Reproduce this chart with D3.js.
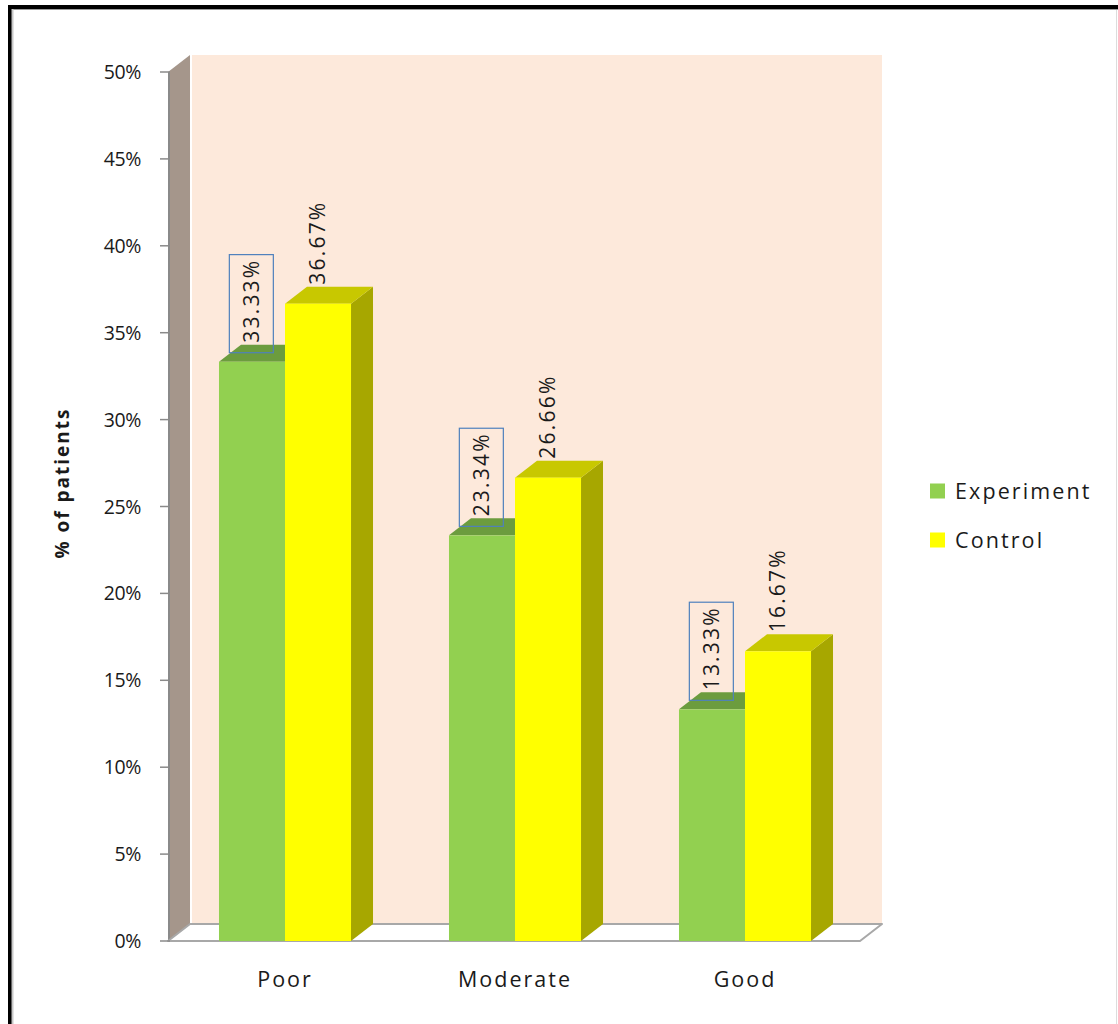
<!DOCTYPE html>
<html>
<head>
<meta charset="utf-8">
<script src="https://cdn.jsdelivr.net/npm/d3@7"></script>
<style>
  html, body { margin: 0; padding: 0; background: #fff; }
  svg { display: block; }
  text { font-family: "Open Sans", "Noto Sans", sans-serif; fill: #1a1a1a; }
</style>
</head>
<body>
<svg id="chart" width="1118" height="1024"></svg>
<script>
// Outcome grade per group, as share of patients
const categories = ["Poor", "Moderate", "Good"];
const seriesNames = ["Experiment", "Control"];
const experiment = [33.33, 23.34, 13.33];
const control = [36.67, 26.66, 16.67];
const tickValues = [0, 5, 10, 15, 20, 25, 30, 35, 40, 45, 50];

const colors = {
  Experiment: { front: "#92d050", top: "#6c9c3e", side: "#6f9a3b" },
  Control: { front: "#ffff00", top: "#c8c800", side: "#a7a700" }
};

const svg = d3.select("#chart");

// 3D depth offsets of the plot box
const DX = 22, DY = -17;

const y = d3.scaleLinear().domain([0, 50]).range([941, 72]);
const x = d3.scaleBand().domain(categories).range([170, 860]).paddingInner(0).paddingOuter(0);
const xs = d3.scaleBand().domain(seriesNames).range([0, x.bandwidth()]).paddingOuter(0.742).paddingInner(0);

// Outer frame
svg.append("rect").attr("x", 10).attr("y", 7).attr("width", 1200).attr("height", 1200)
  .attr("fill", "none").attr("stroke", "#000").attr("stroke-width", 4);
svg.append("line").attr("x1", 12).attr("x2", 1118).attr("y1", 9.5).attr("y2", 9.5)
  .attr("stroke", "#9a9a9a").attr("stroke-width", 1);
svg.append("line").attr("x1", 12.5).attr("x2", 12.5).attr("y1", 9).attr("y2", 1024)
  .attr("stroke", "#c8c8c8").attr("stroke-width", 2);
svg.append("line").attr("x1", 1116.5).attr("x2", 1116.5).attr("y1", 10).attr("y2", 1024)
  .attr("stroke", "#dcdcdc").attr("stroke-width", 1);

const x0 = x.range()[0], x1 = x.range()[1];
const yTop = y(50), yBot = y(0);

// Back wall
svg.append("rect")
  .attr("x", x0 + DX).attr("y", yTop + DY)
  .attr("width", x1 - x0).attr("height", yBot - yTop)
  .attr("fill", "#fde9db");

// Side wall
svg.append("polygon")
  .attr("points", [[x0 - 2, yTop], [x0 - 2 + DX, yTop + DY], [x0 - 2 + DX, yBot + DY], [x0 - 2, yBot]].join(" "))
  .attr("fill", "#a5968b");
svg.append("line").attr("x1", x0 - 1).attr("x2", x0 - 1).attr("y1", yTop).attr("y2", yBot)
  .attr("stroke", "#8a8a8a").attr("stroke-width", 2);

// Floor
svg.append("polygon")
  .attr("points", [[x0 - 2, yBot], [x0 - 2 + DX, yBot + DY], [x1 + DX, yBot + DY], [x1, yBot]].join(" "))
  .attr("fill", "#ffffff").attr("stroke", "#a8a8a8").attr("stroke-width", 2).attr("stroke-linejoin", "round");

// Y axis ticks and labels
const yAxis = svg.append("g");
yAxis.selectAll("line").data(tickValues).join("line")
  .attr("x1", x0 - 10).attr("x2", x0).attr("y1", d => y(d)).attr("y2", d => y(d))
  .attr("stroke", "#8a8a8a").attr("stroke-width", 1.5);
yAxis.selectAll("text").data(tickValues).join("text")
  .attr("x", x0 - 29).attr("y", d => y(d)).attr("dy", "0.36em")
  .attr("text-anchor", "end").attr("font-size", 19.5).attr("letter-spacing", -0.4)
  .text(d => d + "%");

// Axis title
svg.append("text")
  .attr("transform", `translate(62,483) rotate(-90)`)
  .attr("text-anchor", "middle").attr("dy", "0.35em")
  .attr("font-size", 19).attr("font-weight", "bold").attr("letter-spacing", 2)
  .text("% of patients");

// Bars, drawn back-to-front so later bars cover earlier sides
const rows = categories.map((c, i) => ({ cat: c, vals: [experiment[i], control[i]] }));
const bw = xs.bandwidth();
rows.forEach(r => {
  r.vals.forEach((v, si) => {
    const name = seriesNames[si];
    const bx = x(r.cat) + xs(name);
    const by = y(v);
    const c = colors[name];
    const g = svg.append("g");
    g.append("polygon")
      .attr("points", [[bx + bw, by], [bx + bw + DX, by + DY], [bx + bw + DX, yBot + DY], [bx + bw, yBot]].join(" "))
      .attr("fill", c.side);
    g.append("polygon")
      .attr("points", [[bx, by], [bx + DX, by + DY], [bx + bw + DX, by + DY], [bx + bw, by]].join(" "))
      .attr("fill", c.top);
    g.append("rect").attr("x", bx).attr("y", by).attr("width", bw).attr("height", yBot - by)
      .attr("fill", c.front);
  });
});

// Value labels
rows.forEach(r => {
  r.vals.forEach((v, si) => {
    const name = seriesNames[si];
    const cx = x(r.cat) + xs(name) + bw / 2;
    const g = svg.append("g").attr("transform", `translate(${cx},${y(v) + DY - 2}) rotate(-90)`);
    const t = g.append("text").attr("x", 0).attr("dy", "0.35em")
      .attr("font-size", 21).attr("letter-spacing", 2.2)
      .text(v.toFixed(2) + "%");
    if (name === "Experiment") {
      const b = t.node().getBBox();
      g.insert("rect", "text")
        .attr("x", -10).attr("y", b.y - 8)
        .attr("width", b.width + 14).attr("height", b.height + 16)
        .attr("fill", "none").attr("stroke", "#4f81bd").attr("stroke-width", 1.2);
    }
  });
});

// Category labels
svg.append("g").selectAll("text").data(categories).join("text")
  .attr("x", d => x(d) + x.bandwidth() / 2).attr("y", 987)
  .attr("text-anchor", "middle").attr("font-size", 21.5).attr("letter-spacing", 2)
  .text(d => d);

// Legend
const legend = svg.append("g");
seriesNames.forEach((name, i) => {
  const ly = 491 + i * 49;
  legend.append("rect").attr("x", 930).attr("y", ly - 7.5).attr("width", 15).attr("height", 15)
    .attr("fill", colors[name].front);
  legend.append("text").attr("x", 955).attr("y", ly).attr("dy", "0.36em")
    .attr("font-size", 21.5).attr("letter-spacing", 2.1)
    .text(name);
});
</script>
</body>
</html>
